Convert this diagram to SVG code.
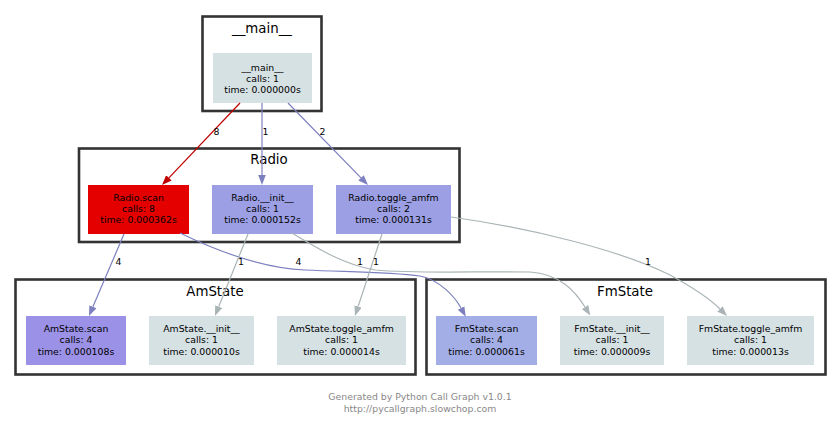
<svg xmlns="http://www.w3.org/2000/svg" width="840" height="425" viewBox="0 0 840 425">
<style>
text{font-family:"DejaVu Sans","Liberation Sans",sans-serif;}
.cl{fill:#ffffff;stroke:#333333;stroke-width:2.6;}
.ct{font-size:13.33px;fill:#000;text-anchor:middle;}
.nt{font-size:9.33px;fill:#000;text-anchor:middle;}
.el{font-size:9.33px;fill:#000;text-anchor:middle;}
.grey{fill:#d6e1e4;}
.e{fill:none;stroke-width:1.2;}
.red{stroke:#c00000;}
.blue{stroke:#7d80bf;}
.gry{stroke:#aab4b6;}
.ft{font-size:9.33px;fill:#888888;text-anchor:middle;}
</style>
<defs>
<marker id="ar" markerWidth="10" markerHeight="8" refX="0" refY="3.8" orient="auto" markerUnits="userSpaceOnUse"><path d="M0,0 L10,3.8 L0,7.6 z" fill="#c00000"/></marker>
<marker id="ab" markerWidth="10" markerHeight="8" refX="0" refY="3.8" orient="auto" markerUnits="userSpaceOnUse"><path d="M0,0 L10,3.8 L0,7.6 z" fill="#7d80bf"/></marker>
<marker id="ag" markerWidth="10" markerHeight="8" refX="0" refY="3.8" orient="auto" markerUnits="userSpaceOnUse"><path d="M0,0 L10,3.8 L0,7.6 z" fill="#aab4b6"/></marker>
</defs>
<rect width="840" height="425" fill="#ffffff"/>
<g id="clusters">
<g id="cluster_main"><rect class="cl" x="202.5" y="16.5" width="119" height="94.5"/><text class="ct" x="262" y="33">__main__</text></g>
<g id="cluster_Radio"><rect class="cl" x="79" y="148.5" width="380.5" height="93.5"/><text class="ct" x="269" y="164">Radio</text></g>
<g id="cluster_AmState"><rect class="cl" x="15.5" y="279.5" width="400" height="95"/><text class="ct" x="215" y="296">AmState</text></g>
<g id="cluster_FmState"><rect class="cl" x="426.5" y="279.5" width="399" height="95"/><text class="ct" x="625" y="296">FmState</text></g>
</g>
<g id="node_main"><rect class="grey" x="213" y="53" width="99" height="50"/><text class="nt" x="262.5" y="70.5">__main__</text><text class="nt" x="262.5" y="81.5">calls: 1</text><text class="nt" x="262.5" y="92.5">time: 0.000000s</text></g>
<g id="node_Radio_scan"><rect fill="#e50000" x="88" y="185" width="101" height="49"/><text class="nt" x="138.5" y="200.5">Radio.scan</text><text class="nt" x="138.5" y="211.5">calls: 8</text><text class="nt" x="138.5" y="222.5">time: 0.000362s</text></g>
<g id="node_Radio_init"><rect fill="#9c9fe4" x="212" y="185" width="101" height="49"/><text class="nt" x="262.5" y="200.5">Radio.__init__</text><text class="nt" x="262.5" y="211.5">calls: 1</text><text class="nt" x="262.5" y="222.5">time: 0.000152s</text></g>
<g id="node_Radio_toggle"><rect fill="#9c9fe4" x="336" y="185" width="115" height="49"/><text class="nt" x="393.5" y="200.5">Radio.toggle_amfm</text><text class="nt" x="393.5" y="211.5">calls: 2</text><text class="nt" x="393.5" y="222.5">time: 0.000131s</text></g>
<g id="node_AmState_scan"><rect fill="#9b91e6" x="26" y="316" width="100" height="49"/><text class="nt" x="76" y="332">AmState.scan</text><text class="nt" x="76" y="343">calls: 4</text><text class="nt" x="76" y="354.5">time: 0.000108s</text></g>
<g id="node_AmState_init"><rect class="grey" x="149" y="316" width="105" height="49"/><text class="nt" x="201.5" y="332">AmState.__init__</text><text class="nt" x="201.5" y="343">calls: 1</text><text class="nt" x="201.5" y="354.5">time: 0.000010s</text></g>
<g id="node_AmState_toggle"><rect class="grey" x="277" y="316" width="129" height="49"/><text class="nt" x="341.5" y="332">AmState.toggle_amfm</text><text class="nt" x="341.5" y="343">calls: 1</text><text class="nt" x="341.5" y="354.5">time: 0.000014s</text></g>
<g id="node_FmState_scan"><rect fill="#a4aee6" x="436" y="316" width="101" height="49"/><text class="nt" x="486.5" y="332">FmState.scan</text><text class="nt" x="486.5" y="343">calls: 4</text><text class="nt" x="486.5" y="354.5">time: 0.000061s</text></g>
<g id="node_FmState_init"><rect class="grey" x="560" y="316" width="104" height="49"/><text class="nt" x="612" y="332">FmState.__init__</text><text class="nt" x="612" y="343">calls: 1</text><text class="nt" x="612" y="354.5">time: 0.000009s</text></g>
<g id="node_FmState_toggle"><rect class="grey" x="687" y="316" width="127" height="49"/><text class="nt" x="750.5" y="332">FmState.toggle_amfm</text><text class="nt" x="750.5" y="343">calls: 1</text><text class="nt" x="750.5" y="354.5">time: 0.000013s</text></g>
<g id="edges">
<path class="e red" d="M240,103 L168.9,177.8" marker-end="url(#ar)"/>
<path class="e blue" d="M262,103 L262,175" marker-end="url(#ab)"/>
<path class="e blue" d="M288,103 L361,177.8" marker-end="url(#ab)"/>
<path class="e blue" d="M124,234 L92.9,306.8" marker-end="url(#ab)"/>
<path class="e blue" d="M180,233 C215,250 260,268 305,270 C350,272 390,272 420,276 C440,280 455,297 461,308" marker-end="url(#ab)"/>
<path class="e gry" d="M248,234 L218.7,306.7" marker-end="url(#ag)"/>
<path class="e gry" d="M292,233 C320,250 345,265 375,270 C420,274 480,271 530,272 C560,274 575,291 585,307" marker-end="url(#ag)"/>
<path class="e gry" d="M382,234 L358.1,306.5" marker-end="url(#ag)"/>
<path class="e gry" d="M451,217 C530,228 620,250 670,275 C692,287 708,297 720,309" marker-end="url(#ag)"/>
<text class="el" x="216.5" y="134.5">8</text>
<text class="el" x="265.5" y="134.5">1</text>
<text class="el" x="322.5" y="134.5">2</text>
<text class="el" x="118.5" y="264.5">4</text>
<text class="el" x="241" y="264.5">1</text>
<text class="el" x="298.5" y="264.5">4</text>
<text class="el" x="360" y="264.5">1</text>
<text class="el" x="376" y="264.5">1</text>
<text class="el" x="648" y="264.5">1</text>
</g>
<text class="ft" x="420" y="400">Generated by Python Call Graph v1.0.1</text>
<text class="ft" x="420" y="411.5">http://pycallgraph.slowchop.com</text>
</svg>
